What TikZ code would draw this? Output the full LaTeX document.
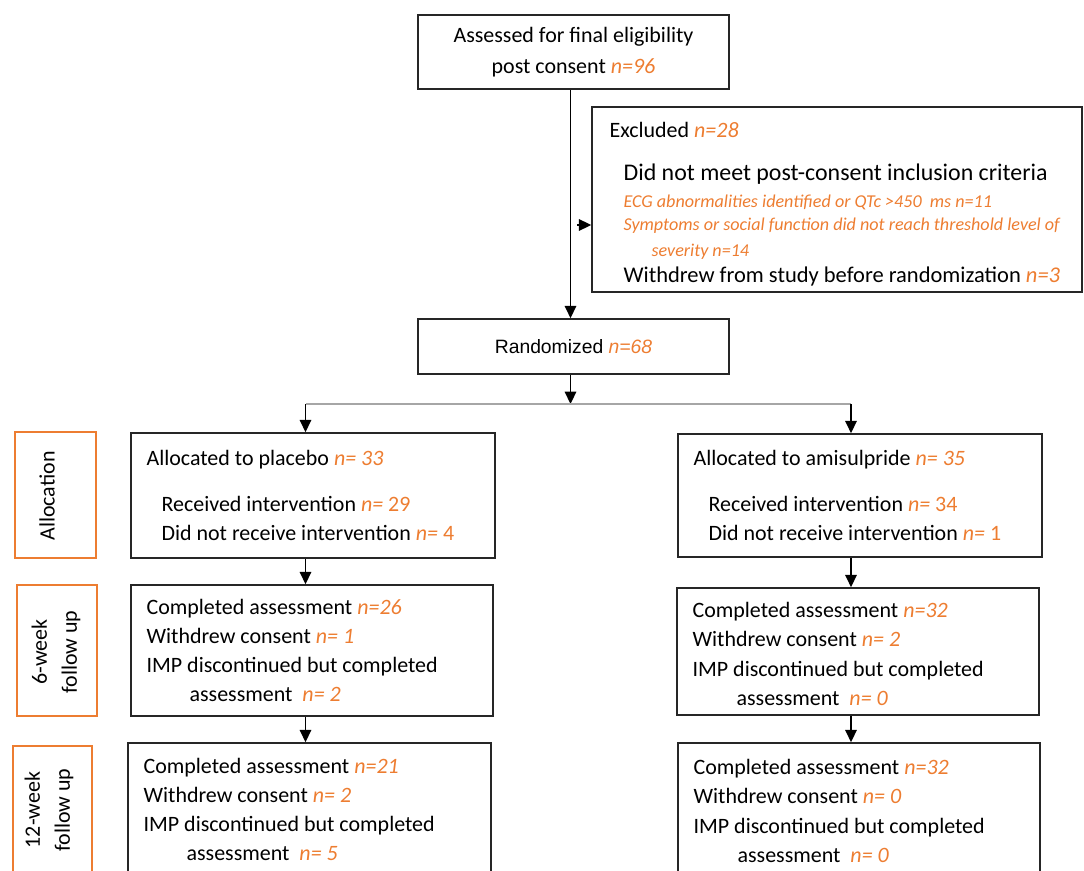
\documentclass[tikz,border=0pt]{standalone}
\usepackage{fontspec}
\setmainfont{Carlito}
\newfontfamily\arialfont{Liberation Sans}
\usetikzlibrary{arrows.meta}
\definecolor{nOrange}{HTML}{ED7D31}
\newcommand\cnt[1]{{\color{nOrange}\itshape #1}}
\newcommand\cntup[1]{{\color{nOrange}#1}}
\tikzset{
  box/.style={draw=black!85, line width=0.9pt, inner sep=0pt},
  phase/.style={draw=nOrange, line width=1.2pt, inner sep=0pt},
  txt/.style={anchor=west, inner sep=0pt, align=left, font=\fontsize{12.5}{16.6}\selectfont},
  vtxt/.style={rotate=90, inner sep=0pt, align=center, font=\fontsize{12.5}{17}\selectfont},
  link/.style={->, line width=1pt},
}
\begin{document}
\begin{tikzpicture}[x=0.02cm, y=-0.02cm, >={Triangle[length=7pt,width=6.5pt]}]
\useasboundingbox (0,0) rectangle (1084,871);
\clip (0,0) rectangle (1084,871);

% enrolment
\node[box, minimum width=6.22cm, minimum height=1.48cm, align=center,
  font=\fontsize{12.5}{17.6}\selectfont] (assess) at (573.5,52)
  {Assessed for final eligibility\\post consent \cnt{n=96}};
\node[box, minimum width=9.8cm, minimum height=3.7cm] (excl) at (837,199.5) {};
\node[txt, font=\fontsize{10.3}{13.5}\selectfont] (exclT) at ([xshift=.36cm,yshift=-.1cm]excl.west)
  {{\fontsize{12.5}{13.5}\selectfont Excluded \cnt{n=28}}\\[11pt]
   \hspace*{.28cm}{\fontsize{13.6}{13.5}\selectfont Did not meet post-consent inclusion criteria}\\[1.5pt]
   \hspace*{.28cm}\cnt{ECG abnormalities identified or QTc >450\ \ ms n=11}\\
   \hspace*{.28cm}\cnt{Symptoms or social function did not reach threshold level of}\\[1pt]
   \hspace*{.84cm}\cnt{severity n=14}\\[1.5pt]
   \hspace*{.28cm}{\fontsize{12.8}{13.5}\selectfont Withdrew from study before randomization \cnt{n=3}}};
\node[box, minimum width=6.22cm, minimum height=1.1cm,
  font=\arialfont\fontsize{11}{13}\selectfont] (rand) at (573.5,346.5) {Randomized \cnt{n=68}};

% phase labels
\node[phase, minimum width=1.62cm, minimum height=2.52cm] (alloc) at (55.5,495) {};
\node[vtxt] (allocT) at (47,496) {Allocation};
\node[phase, minimum width=1.6cm, minimum height=2.62cm] (wk6) at (57,650.5) {};
\node[vtxt] (wk6T) at (56,652) {6-week\\follow up};
\node[phase, minimum width=1.58cm, minimum height=3.2cm] (wk12) at (52.5,826) {};
\node[vtxt] (wk12T) at (49,810) {12-week\\follow up};

% placebo arm
\node[box, minimum width=7.28cm, minimum height=2.5cm] (plac) at (313,495.5) {};
\node[txt] (placT) at ([xshift=.32cm]plac.west)
  {Allocated to placebo \cnt{n= 33}\\[10pt]
   \hspace*{.3cm}Received intervention \cnt{n=} \cntup{29}\\
   \hspace*{.3cm}Did not receive intervention \cnt{n=} \cntup{4}};
\node[box, minimum width=7.24cm, minimum height=2.62cm] (plac6) at (312,650.5) {};
\node[txt] (plac6T) at ([xshift=.32cm]plac6.west)
  {Completed assessment \cnt{n=26}\\
   Withdrew consent \cnt{n= 1}\\
   IMP discontinued but completed\\
   \hspace*{.86cm}assessment\ \ \cnt{n= 2}};
\node[box, minimum width=7.26cm, minimum height=2.66cm] (plac12) at (309.5,809.5) {};
\node[txt] (plac12T) at ([xshift=.32cm]plac12.west)
  {Completed assessment \cnt{n=21}\\
   Withdrew consent \cnt{n= 2}\\
   IMP discontinued but completed\\
   \hspace*{.86cm}assessment\ \ \cnt{n= 5}};

% amisulpride arm
\node[box, minimum width=7.28cm, minimum height=2.46cm] (amis) at (860,495.5) {};
\node[txt] (amisT) at ([xshift=.32cm]amis.west)
  {Allocated to amisulpride \cnt{n= 35}\\[10pt]
   \hspace*{.3cm}Received intervention \cnt{n=} \cntup{34}\\
   \hspace*{.3cm}Did not receive intervention \cnt{n=} \cntup{1}};
\node[box, minimum width=7.24cm, minimum height=2.54cm] (amis6) at (858,651.5) {};
\node[txt] (amis6T) at ([xshift=.32cm,yshift=-.05cm]amis6.west)
  {Completed assessment \cnt{n=32}\\
   Withdrew consent \cnt{n= 2}\\
   IMP discontinued but completed\\
   \hspace*{.88cm}assessment\ \ \cnt{n= 0}};
\node[box, minimum width=7.24cm, minimum height=2.72cm] (amis12) at (859,811) {};
\node[txt] (amis12T) at ([xshift=.32cm]amis12.west)
  {Completed assessment \cnt{n=32}\\
   Withdrew consent \cnt{n= 0}\\
   IMP discontinued but completed\\
   \hspace*{.88cm}assessment\ \ \cnt{n= 0}};

% connectors
\coordinate (trunk) at (570.5,60);
\coordinate (exclin) at (577,225);
\coordinate (fork) at (570.5,404);
\coordinate (lft) at (305.5,404);
\coordinate (rgt) at (851,404);
\draw[link] (trunk |- assess.south) -- (trunk |- rand.north);
\draw[link] (exclin) -- (exclin -| excl.west);
\draw[link] (trunk |- rand.south) -- (fork);
\draw[gray!70, line width=.7pt] (lft) -- (rgt);
\draw[link] (lft) -- (lft |- plac.north);
\draw[link] (rgt) -- (rgt |- amis.north);
\draw[link] (lft |- plac.south) -- (lft |- plac6.north);
\draw[link] (lft |- plac6.south) -- (lft |- plac12.north);
\draw[link] (rgt |- amis.south) -- (rgt |- amis6.north);
\draw[link] (rgt |- amis6.south) -- (rgt |- amis12.north);
\end{tikzpicture}
\end{document}
